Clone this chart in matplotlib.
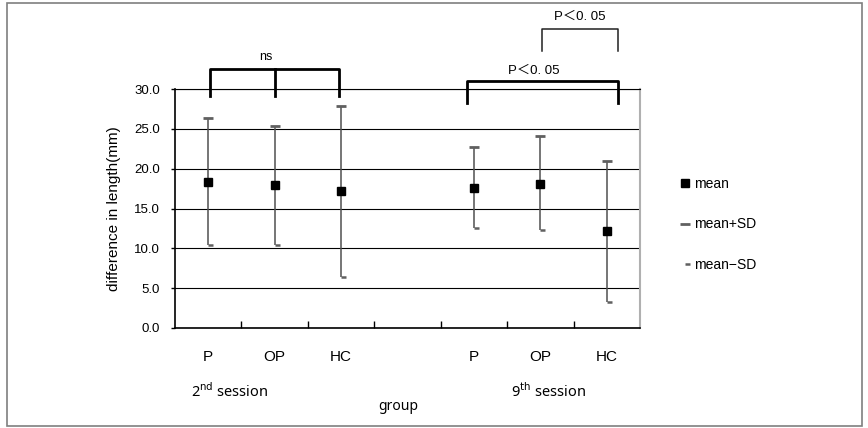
import matplotlib.pyplot as plt
from matplotlib.patches import Rectangle

# werte
groups = ["P", "OP", "HC", "", "P", "OP", "HC"]
pos = [0, 1, 2, 4, 5, 6]
mean = [18.3, 17.9, 17.2, 17.6, 18.1, 12.2]
mean_plus_sd = [26.3, 25.3, 27.9, 22.7, 24.1, 20.9]
mean_minus_sd = [10.4, 10.4, 6.4, 12.5, 12.3, 3.3]

fnt = ["Liberation Sans", "Noto Sans CJK JP", "DejaVu Sans"]
plt.rcParams["font.family"] = fnt

fig = plt.figure(figsize=(8.68, 4.28), dpi=100)
fig.patches.append(Rectangle((7 / 868, 2 / 428), 855 / 868, 423 / 428, transform=fig.transFigure,
                             fill=False, edgecolor="#7f7f7f", linewidth=1.2))
ax = fig.add_axes([175 / 868, 1 - 328 / 428, 465 / 868, 239 / 428])

ax.vlines(pos, mean_minus_sd, mean_plus_sd, color="#505050", linewidth=1.1, zorder=3)
l_up, = ax.plot(pos, mean_plus_sd, linestyle="none", marker="_", markersize=7.5,
                markeredgewidth=2, color="#606060", zorder=4, label="mean+SD")
l_low, = ax.plot(pos, mean_minus_sd, linestyle="none", marker=[(0, 0), (1, 0)], markersize=7,
                 markeredgewidth=1.8, color="#606060", zorder=4, label="mean−SD")
l_mean, = ax.plot(pos, mean, linestyle="none", marker="s", markersize=6, color="black",
                  zorder=5, label="mean")

ax.set_xlim(-0.5, 6.5)
ax.set_ylim(0, 30)
ax.set_yticks([0, 5, 10, 15, 20, 25, 30])
ax.set_yticklabels([f"{v:.1f}" for v in [0, 5, 10, 15, 20, 25, 30]], fontsize=9.5)
ax.yaxis.grid(True, color="black", linewidth=0.8)
ax.set_axisbelow(True)
ax.tick_params(axis="y", direction="out", length=3, width=1, pad=8)

ax.set_xticks(range(len(groups)))
ax.set_xticklabels(groups, fontsize=11)
ax.tick_params(axis="x", which="major", length=0, pad=16)
ax.set_xticks([0.5, 1.5, 2.5, 3.5, 4.5, 5.5], minor=True)
ax.tick_params(axis="x", which="minor", direction="in", length=5, width=1)

ax.spines["left"].set_linewidth(1.2)
ax.spines["bottom"].set_linewidth(1.2)
ax.spines["top"].set_color("black")
ax.spines["top"].set_linewidth(0.8)
ax.spines["right"].set_color("#b0b0b0")
ax.spines["right"].set_linewidth(1.5)

ax.set_ylabel("difference in length(mm)", fontsize=11, labelpad=9)

# session labels and x label
ax.text(0.33, -0.265, "2$^{\\mathrm{nd}}$ session", transform=ax.get_xaxis_transform(),
        ha="center", va="center", fontsize=10.5, family="Noto Sans")
ax.text(5.12, -0.265, "9$^{\\mathrm{th}}$ session", transform=ax.get_xaxis_transform(),
        ha="center", va="center", fontsize=10.5, family="Noto Sans")
ax.text(2.86, -0.328, "group", transform=ax.get_xaxis_transform(),
        ha="center", va="center", fontsize=10, family="Noto Sans")

# signifikanz-klammern
ax.plot([0.02, 0.02, 1.97, 1.97], [29.1, 32.5, 32.5, 29.1], color="black", lw=2, clip_on=False)
ax.plot([1.0, 1.0], [32.5, 29.1], color="black", lw=2, clip_on=False)
ax.text(0.87, 34.0, "ns", ha="center", va="center", fontsize=9)

ax.plot([3.9, 3.9, 6.17, 6.17], [28.2, 31.0, 31.0, 28.2], color="black", lw=2, clip_on=False)
ax.text(4.9, 32.3, "P＜0. 05", ha="center", va="center", fontsize=9.5)

ax.plot([5.03, 5.03, 6.17, 6.17], [34.8, 37.5, 37.5, 34.8], color="#202020", lw=1.1, clip_on=False)
ax.text(5.6, 39.0, "P＜0. 05", ha="center", va="center", fontsize=9.5)

fig.legend(handles=[l_mean, l_up, l_low], loc="upper left", bbox_to_anchor=(679 / 868, 1 - 177 / 428),
           frameon=False, fontsize=10, numpoints=1, handlelength=0.8, handletextpad=0.25,
           labelspacing=1.9, borderaxespad=0, borderpad=0)

fig.savefig("out.png", dpi=100)
